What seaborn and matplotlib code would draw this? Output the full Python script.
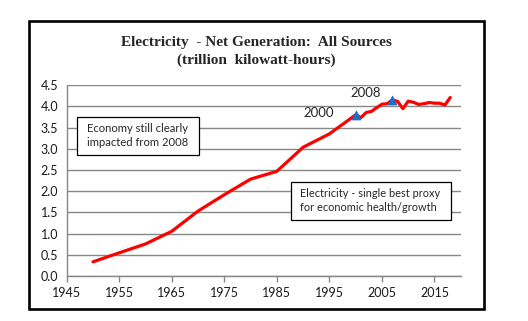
import matplotlib
matplotlib.use("Agg")
import matplotlib.pyplot as plt
import seaborn as sns
import pandas as pd
from matplotlib.patches import Rectangle

years = [1950, 1955, 1960, 1965, 1970, 1975, 1980, 1985, 1990, 1995,
         2000, 2001, 2002, 2003, 2004, 2005, 2006, 2007, 2008, 2009,
         2010, 2011, 2012, 2013, 2014, 2015, 2016, 2017, 2018]
generation = [0.334, 0.547, 0.756, 1.055, 1.532, 1.918, 2.286, 2.470, 3.038, 3.353,
              3.802, 3.737, 3.858, 3.883, 3.971, 4.055, 4.065, 4.157, 4.119, 3.950,
              4.125, 4.100, 4.048, 4.066, 4.094, 4.078, 4.077, 4.035, 4.210]
marker_years = [2000, 2007]
marker_values = [3.802, 4.157]
marker_labels = ["2000", "2008"]
x_ticks = [1945, 1955, 1965, 1975, 1985, 1995, 2005, 2015]
y_ticks = [0.0, 0.5, 1.0, 1.5, 2.0, 2.5, 3.0, 3.5, 4.0, 4.5]
title_lines = ["Electricity  - Net Generation:  All Sources", "(trillion  kilowatt-hours)"]
note_left = "Economy still clearly\nimpacted from 2008"
note_right = "Electricity - single best proxy\nfor economic health/growth"

sns.set_style("white")
plt.rcParams['font.family'] = ['Lato', 'DejaVu Sans']

W, H = 528, 321
fig = plt.figure(figsize=(W / 100, H / 100), dpi=100)

def fx(px):
    return px / W

def fy(py):
    return 1 - py / H

ax = fig.add_axes([fx(66.7), fy(276), fx(460.7) - fx(66.7), fy(85.3) - fy(276)])

df = pd.DataFrame({"year": years, "gen": generation})
sns.lineplot(data=df, x="year", y="gen", ax=ax, color="#FF0000", linewidth=2.3,
             sort=False, estimator=None)
mk = pd.DataFrame({"year": marker_years, "gen": marker_values})
sns.scatterplot(data=mk, x="year", y="gen", ax=ax, marker="^", s=42,
                color="#1F6EC0", edgecolor="#1F6EC0", zorder=5)

ax.set_xlim(1945, 2020)
ax.set_ylim(0, 4.5)
ax.set_xticks(x_ticks)
ax.set_yticks(y_ticks)
ax.set_yticklabels([f"{v:.1f}" for v in y_ticks])
ax.set_xlabel("")
ax.set_ylabel("")
ax.grid(axis="y", color="#878787", linewidth=1.0)
ax.grid(axis="x", visible=False)
ax.set_axisbelow(True)
for s in ["top", "right"]:
    ax.spines[s].set_visible(False)
for s in ["left", "bottom"]:
    ax.spines[s].set_color("#878787")
    ax.spines[s].set_linewidth(1.0)
ax.tick_params(axis="x", direction="out", length=4, width=1, color="#878787",
               labelsize=9, pad=4, labelcolor="#1a1a1a", bottom=True)
ax.tick_params(axis="y", length=0, labelsize=9, pad=6, labelcolor="#1a1a1a")

# point labels
ax.annotate(marker_labels[0], (marker_years[0], marker_values[0]), xytext=(-26.4, 1.3),
            textcoords="offset points", fontsize=9.5, ha="center", va="center")
ax.annotate(marker_labels[1], (marker_years[1], marker_values[1]), xytext=(-19.1, 5),
            textcoords="offset points", fontsize=9.5, ha="center", va="center")

# title
fig.text(fx(256.5), fy(42.5), title_lines[0], ha="center", va="center",
         fontsize=11, fontweight="bold", family=["Liberation Serif"])
fig.text(fx(256.5), fy(60), title_lines[1], ha="center", va="center",
         fontsize=11, fontweight="bold", family=["Liberation Serif"])

# note boxes
fig.patches.append(Rectangle((fx(77), fy(155.3)), fx(199) - fx(77), fy(116.7) - fy(155.3),
                             transform=fig.transFigure, facecolor="white",
                             edgecolor="black", linewidth=0.9, zorder=3))
fig.text(fx(87.3), fy(135.5), note_left, ha="left", va="center", fontsize=8.1,
         linespacing=1.25, zorder=4)
fig.patches.append(Rectangle((fx(290.7), fy(220)), fx(450.7) - fx(290.7), fy(181.7) - fy(220),
                             transform=fig.transFigure, facecolor="white",
                             edgecolor="black", linewidth=0.9, zorder=3))
fig.text(fx(300.3), fy(200.5), note_right, ha="left", va="center", fontsize=7.9,
         linespacing=1.25, zorder=4)

# outer frame
fig.patches.append(Rectangle((fx(28.5), fy(309)), fx(484) - fx(28.5), fy(21) - fy(309),
                             transform=fig.transFigure, facecolor="none",
                             edgecolor="black", linewidth=1.9, zorder=10))

fig.savefig("out.png", dpi=100)
